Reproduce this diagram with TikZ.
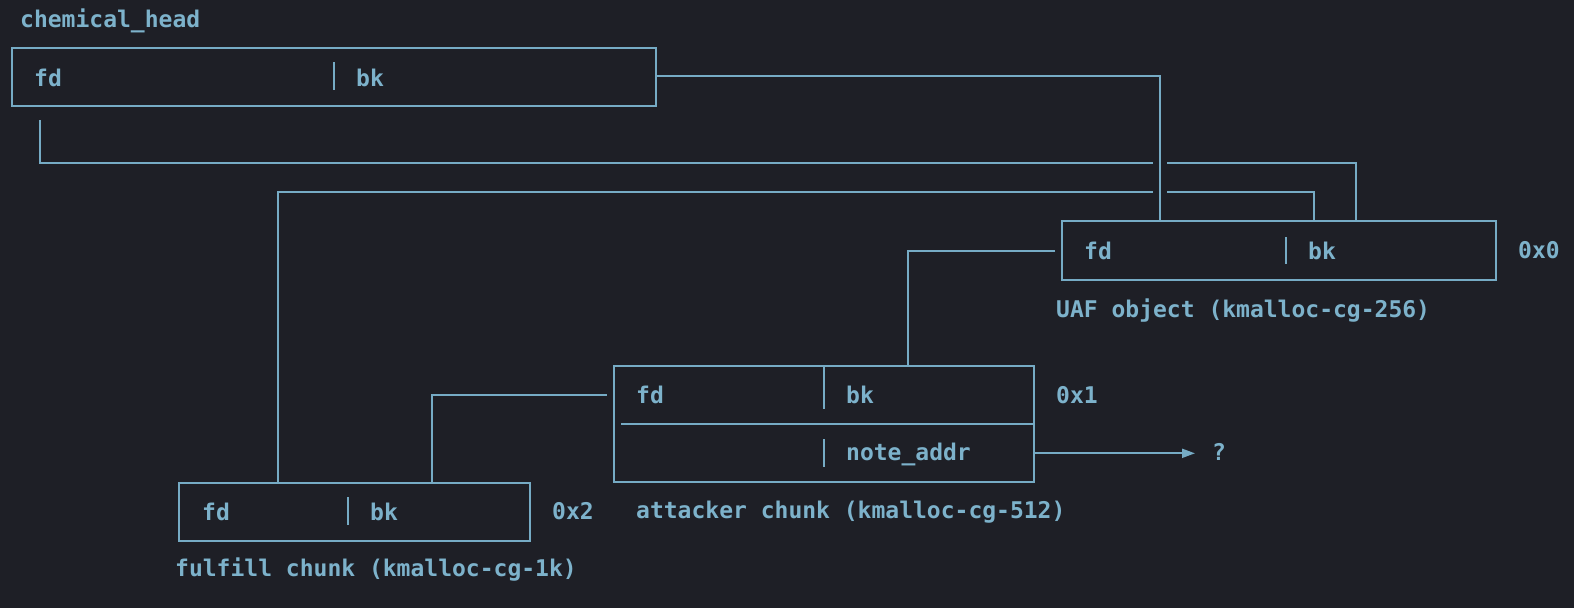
\documentclass[tikz,border=0pt]{standalone}
\usepackage{fontspec}
\setmonofont{DejaVu Sans Mono}
\usetikzlibrary{arrows.meta}
\definecolor{bg}{HTML}{1E1F26}
\definecolor{ln}{HTML}{76ABC5}
\definecolor{tx}{HTML}{7DB2CB}
\tikzset{
  wire/.style={draw=ln, line width=2pt},
  boxnode/.style={draw=ln, line width=2pt, rectangle, inner sep=0pt},
  lbl/.style={text=tx, anchor=base west, inner sep=0pt, font=\ttfamily\bfseries\fontsize{23}{27}\selectfont},
}
\begin{document}
\begin{tikzpicture}[x=1pt,y=-1pt]
\fill[bg] (0,0) rectangle (1574,608);
\useasboundingbox (0,0) rectangle (1574,608);

% boxes
\node[boxnode, minimum width=644pt, minimum height=58pt] (head) at (334,76.5) {};
\node[boxnode, minimum width=434pt, minimum height=58.5pt] (uaf) at (1279,250.25) {};
\node[boxnode, minimum width=420pt, minimum height=116.3pt] (att) at (824,424.15) {};
\node[boxnode, minimum width=350.7pt, minimum height=58pt] (ful) at (354.65,511.7) {};

% dividers
\draw[wire] (334,62) -- (334,90);
\draw[wire] (1286,237) -- (1286,264);
\draw[wire] (824,366) -- (824,409);
\draw[wire] (824,439) -- (824,467);
\draw[wire] (621,424.3) -- (att.east |- 0,424.3);
\draw[wire] (348,497) -- (348,525);

% texts
\node[lbl] (tHead) at (20,27.5) {chemical\_head};
\node[lbl] (hfd) at (34,86) {fd};
\node[lbl] (hbk) at (356,86) {bk};
\node[lbl] (ufd) at (1084,259) {fd};
\node[lbl] (ubk) at (1308,259) {bk};
\node[lbl] (u0) at (1518,258.5) {0x0};
\node[lbl] (uname) at (1056,317) {UAF object (kmalloc-cg-256)};
\node[lbl] (afd) at (636,403.3) {fd};
\node[lbl] (abk) at (846,403.3) {bk};
\node[lbl] (a1) at (1056,403.3) {0x1};
\node[lbl] (anote) at (846,460) {note\_addr};
\node[lbl] (q) at (1212,460.5) {?};
\node[lbl] (aname) at (636,518.5) {attacker chunk (kmalloc-cg-512)};
\node[lbl] (ffd) at (202,520) {fd};
\node[lbl] (fbk) at (370,520) {bk};
\node[lbl] (f2) at (552,519.5) {0x2};
\node[lbl] (fname) at (175,576) {fulfill chunk (kmalloc-cg-1k)};

% connector coordinates
\coordinate (c1) at (1160,76.3);
\coordinate (s2) at (40,120);
\coordinate (g2a) at (1153,163.3);
\coordinate (g2b) at (1167,163.3);
\coordinate (g3a) at (1153,192.3);
\coordinate (g3b) at (1167,192.3);
\coordinate (s4) at (1055,250.7);
\coordinate (s5) at (606.7,395);
\coordinate (qtip) at (1195,453.3);

% connectors
\draw[wire] (head.east |- c1) -- (c1) -- (c1 |- uaf.north);
\draw[wire] (s2) |- (g2a);
\draw[wire] (g2b) -| (uaf.north -| 1356,0);
\draw[wire] (ful.north -| 278.3,0) |- (g3a);
\draw[wire] (g3b) -| (uaf.north -| 1314,0);
\draw[wire] (s4) -| (att.north -| 907.7,0);
\draw[wire] (s5) -| (ful.north -| 432,0);
\draw[wire, -{Triangle[length=13pt,width=9pt]}] (att.east |- qtip) -- (qtip);
\end{tikzpicture}
\end{document}
